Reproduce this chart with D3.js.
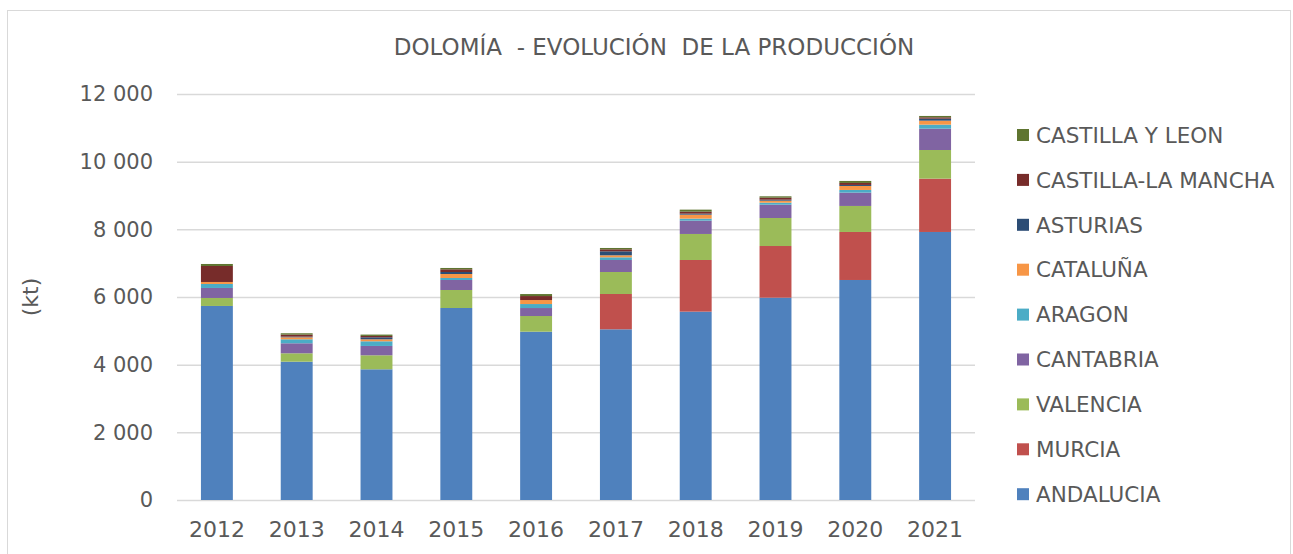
<!DOCTYPE html>
<html>
<head>
<meta charset="utf-8">
<script src="https://cdn.jsdelivr.net/npm/d3@7"></script>
<style>
  body { margin: 0; background: #fff; }
  text { font-family: "DejaVu Sans", sans-serif; fill: #595959; }
</style>
</head>
<body>
<div id="main"></div>
<script>
// datos (kt)
const years = ['2012', '2013', '2014', '2015', '2016', '2017', '2018', '2019', '2020', '2021'];
const andalucia = [5735, 4088, 3863, 5675, 4975, 5045, 5567, 5980, 6503, 7922];
const murcia    = [0, 0, 0, 0, 0, 1044, 1527, 1527, 1419, 1576];
const valencia  = [236, 248, 414, 532, 463, 650, 769, 828, 769, 847];
const cantabria = [296, 296, 276, 296, 236, 355, 394, 394, 394, 631];
const aragon    = [118, 118, 138, 59, 118, 79, 59, 59, 79, 118];
const cataluna  = [59, 59, 59, 118, 118, 59, 118, 59, 118, 118];
const asturias  = [0, 20, 59, 59, 0, 118, 30, 30, 30, 59];
const clm       = [473, 59, 40, 79, 118, 59, 59, 59, 59, 40];
const cyl       = [59, 40, 40, 40, 59, 40, 59, 40, 59, 40];

const seriesNames = ['ANDALUCIA', 'MURCIA', 'VALENCIA', 'CANTABRIA', 'ARAGON', 'CATALUÑA', 'ASTURIAS', 'CASTILLA-LA MANCHA', 'CASTILLA Y LEON'];
const seriesValues = [andalucia, murcia, valencia, cantabria, aragon, cataluna, asturias, clm, cyl];
const colors = ['#4F81BD', '#C0504D', '#9BBB59', '#8064A2', '#4BACC6', '#F79646', '#2C4D75', '#772C2A', '#5F7530'];
const yTicks = [0, 2000, 4000, 6000, 8000, 10000, 12000];

class Grafico {
  constructor(config) {
    this.config = config;
    this.svg = null;
    this.rows = years.map((y, i) => {
      const r = { year: y };
      seriesNames.forEach((s, k) => r[s] = seriesValues[k][i]);
      return r;
    });
    this.createSvg();
  }

  createSvg() {
    this.svg = d3.select(this.config.div)
      .append('svg')
      .attr('width', 1293)
      .attr('height', 554);

    this.svg.append('rect')
      .attr('x', 7.5).attr('y', 10.5)
      .attr('width', 1283).attr('height', 560)
      .attr('fill', '#fff')
      .attr('stroke', '#d9d9d9');
  }

  createScales() {
    const c = this.config;
    this.xScale = d3.scaleBand().domain(years).range([c.left, c.right]).paddingInner(0.6).paddingOuter(0.3);
    this.yScale = d3.scaleLinear().domain([0, 12000]).range([c.bottom, c.top]);
  }

  createAxis() {
    const c = this.config;
    const fmt = d3.formatLocale({ decimal: ',', thousands: ' ', grouping: [3], currency: ['', ''] }).format(',d');

    const yAxis = d3.axisLeft(this.yScale)
      .tickValues(yTicks)
      .tickSize(c.left - c.right)
      .tickPadding(24)
      .tickFormat(fmt);

    const gy = this.svg.append('g')
      .attr('transform', `translate(${c.left},0)`)
      .call(yAxis);
    gy.select('.domain').remove();
    gy.selectAll('line').attr('stroke', '#d9d9d9').attr('stroke-width', 1.5);
    gy.selectAll('text').style('font-size', '21px').attr('fill', '#595959');

    const xAxis = d3.axisBottom(this.xScale).tickSize(0).tickPadding(21);
    const gx = this.svg.append('g')
      .attr('transform', `translate(0,${c.bottom})`)
      .call(xAxis);
    gx.select('.domain').remove();
    gx.selectAll('text').style('font-size', '22px').attr('fill', '#595959');
  }

  createBars() {
    const stack = d3.stack().keys(seriesNames)(this.rows);
    this.svg.append('g')
      .selectAll('g')
      .data(stack)
      .join('g')
      .attr('fill', (d, i) => colors[i])
      .selectAll('rect')
      .data(d => d)
      .join('rect')
      .attr('x', d => this.xScale(d.data.year))
      .attr('width', this.xScale.bandwidth())
      .attr('y', d => this.yScale(d[1]))
      .attr('height', d => this.yScale(d[0]) - this.yScale(d[1]));
  }

  createLabels() {
    this.svg.append('text')
      .attr('x', 654).attr('y', 55)
      .attr('text-anchor', 'middle')
      .style('font-size', '23px')
      .style('white-space', 'pre')
      .text('DOLOMÍA  - EVOLUCIÓN  DE LA PRODUCCIÓN');

    this.svg.append('text')
      .attr('transform', 'translate(38,297) rotate(-90)')
      .attr('text-anchor', 'middle')
      .style('font-size', '22px')
      .text('(kt)');
  }

  createLegend() {
    const items = seriesNames.map((s, i) => ({ name: s, color: colors[i] })).reverse();
    const lg = this.svg.append('g')
      .selectAll('g')
      .data(items)
      .join('g')
      .attr('transform', (d, i) => `translate(1017,${135 + i * 44.9})`);
    lg.append('rect')
      .attr('x', 0).attr('y', -6)
      .attr('width', 12).attr('height', 12)
      .attr('fill', d => d.color);
    lg.append('text')
      .attr('x', 19).attr('y', 0)
      .attr('dy', '0.36em')
      .style('font-size', '21.5px')
      .text(d => d.name);
  }
}

function main() {
  const c = { div: '#main', left: 177, right: 975, top: 94, bottom: 500 };
  const g = new Grafico(c);
  g.createScales();
  g.createAxis();
  g.createBars();
  g.createLabels();
  g.createLegend();
}

main();
</script>
</body>
</html>
